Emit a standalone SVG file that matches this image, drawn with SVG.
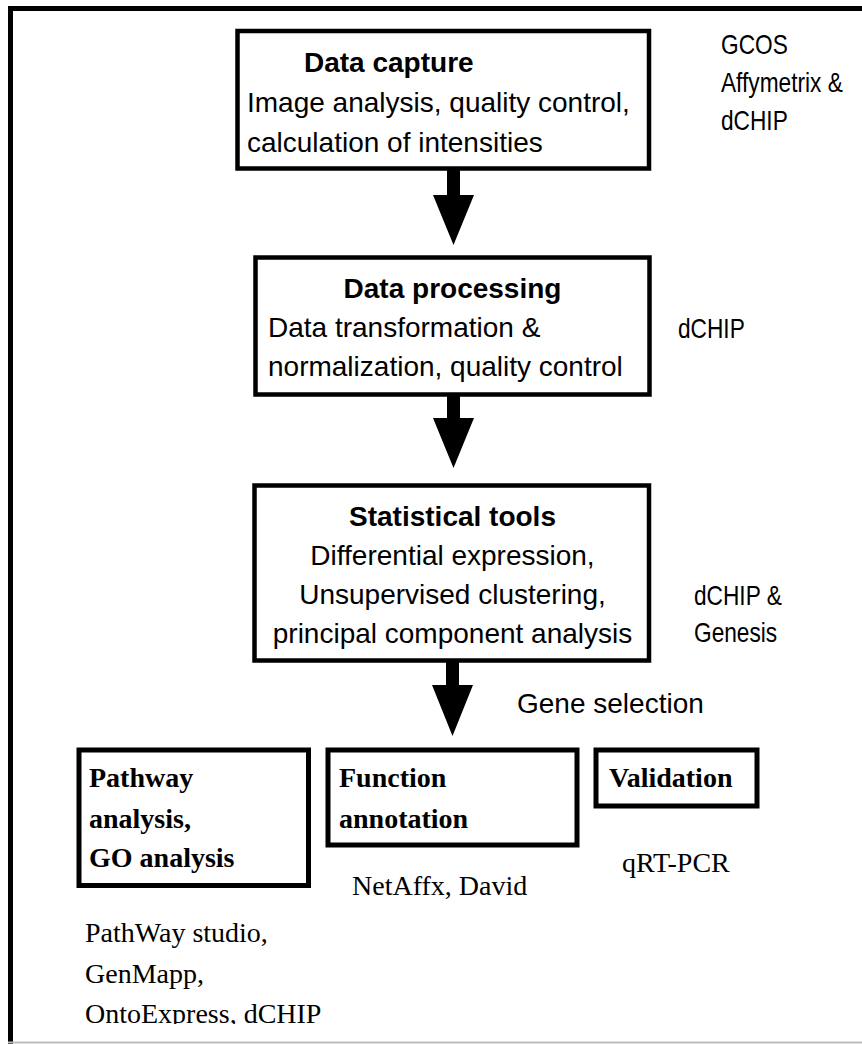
<svg xmlns="http://www.w3.org/2000/svg" width="862" height="1044" viewBox="0 0 862 1044">
<style>
.box{fill:#fff;stroke:#000;stroke-width:4.5}
.sbox{fill:#fff;stroke:#000;stroke-width:5}
.t{font-family:"Liberation Sans",Arial,sans-serif;font-size:28px;fill:#000}
.b{font-weight:bold}
.s{font-family:"Liberation Serif","Times New Roman",serif;font-size:28px;fill:#000}
.arrow{fill:#000}
</style>
<defs>
<clipPath id="pageclip"><rect x="0" y="0" width="862" height="1024"/></clipPath>
</defs>
<rect x="0" y="0" width="862" height="1044" fill="#fff"/>
<g id="frame">
<path d="M10.5 1044 V8.5 H870" fill="none" stroke="#000" stroke-width="5"/>
<line x1="8" y1="1042.5" x2="862" y2="1042.5" stroke="#bdbdbd" stroke-width="2"/>
</g>
<g id="connectors">
<path class="arrow" d="M447 168 H460 V195 H474 L453.5 245 L433 195 H447 Z"/>
<path class="arrow" d="M447 394 H460 V418 H474 L453.5 468 L433 418 H447 Z"/>
<path class="arrow" d="M446 660 H459 V685 H473 L452.5 736 L432 685 H446 Z"/>
</g>
<g id="data-capture">
<rect class="box" x="237.5" y="31" width="411.5" height="137.5"/>
<text class="t b" x="304" y="72">Data capture</text>
<text class="t" x="247" y="112">Image analysis, quality control,</text>
<text class="t" x="247" y="152">calculation of intensities</text>
</g>
<g id="data-capture-tools" transform="translate(721,0) scale(0.81,1)">
<text class="t" x="0" y="54">GCOS</text>
<text class="t" x="0" y="92">Affymetrix &amp;</text>
<text class="t" x="0" y="130">dCHIP</text>
</g>
<g id="data-processing">
<rect class="box" x="255.5" y="257.5" width="394" height="137"/>
<text class="t b" x="452.5" y="298" text-anchor="middle">Data processing</text>
<text class="t" x="268" y="337">Data transformation &amp;</text>
<text class="t" x="268" y="376">normalization, quality control</text>
</g>
<g id="data-processing-tools" transform="translate(678,0) scale(0.81,1)">
<text class="t" x="0" y="338">dCHIP</text>
</g>
<g id="statistical-tools">
<rect class="box" x="254.5" y="485.5" width="394.5" height="175"/>
<text class="t b" x="452.5" y="526" text-anchor="middle">Statistical tools</text>
<text class="t" x="452.5" y="565" text-anchor="middle">Differential expression,</text>
<text class="t" x="452.5" y="604" text-anchor="middle">Unsupervised clustering,</text>
<text class="t" x="452.5" y="643" text-anchor="middle">principal component analysis</text>
</g>
<g id="statistical-tools-tools" transform="translate(694,0) scale(0.81,1)">
<text class="t" x="0" y="605">dCHIP &amp;</text>
<text class="t" x="0" y="642">Genesis</text>
</g>
<g id="gene-selection">
<text class="t" x="517" y="713">Gene selection</text>
</g>
<g id="pathway-analysis">
<rect class="sbox" x="79" y="750" width="229.5" height="135.5"/>
<text class="s b" x="89" y="787">Pathway</text>
<text class="s b" x="89" y="828">analysis,</text>
<text class="s b" x="89" y="867">GO analysis</text>
<g clip-path="url(#pageclip)">
<text class="s" x="85" y="942">PathWay studio,</text>
<text class="s" x="85" y="983">GenMapp,</text>
<text class="s" x="85" y="1023">OntoExpress, dCHIP</text>
</g>
</g>
<g id="function-annotation">
<rect class="sbox" x="328" y="750" width="249" height="95"/>
<text class="s b" x="339" y="787">Function</text>
<text class="s b" x="339" y="828">annotation</text>
<text class="s" x="352" y="895">NetAffx, David</text>
</g>
<g id="validation">
<rect class="sbox" x="596" y="750" width="161" height="56"/>
<text class="s b" x="609" y="787">Validation</text>
<text class="s" x="622" y="872">qRT-PCR</text>
</g>
</svg>
